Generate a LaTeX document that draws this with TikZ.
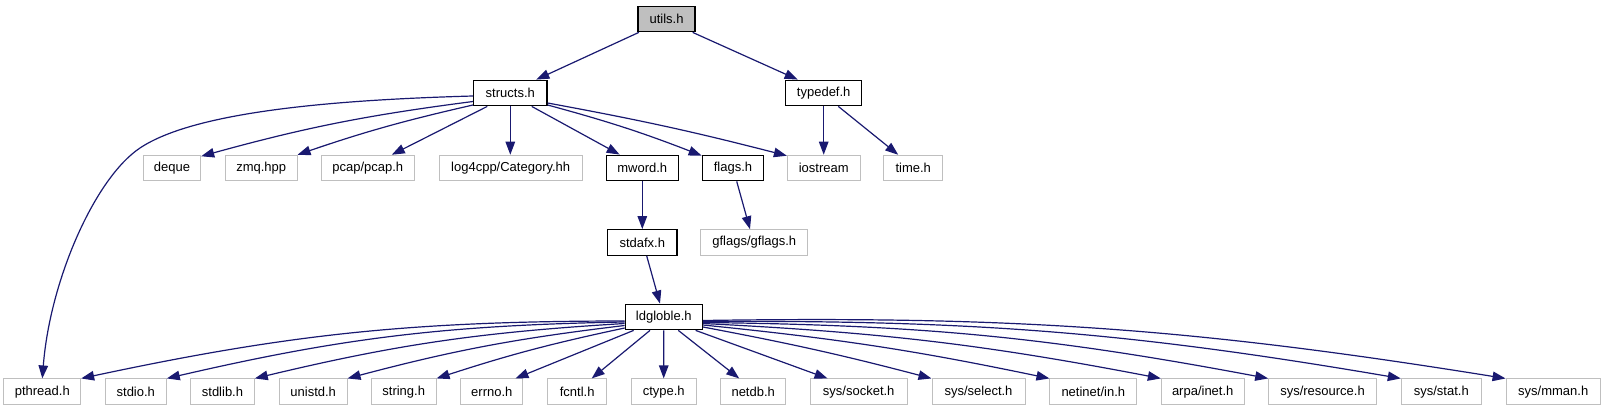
\documentclass[tikz,border=0pt]{standalone}
\usepackage{fontspec}
\setmainfont{Liberation Sans}
\usetikzlibrary{arrows.meta,calc}
\definecolor{edgec}{HTML}{191970}
\definecolor{lgray}{HTML}{BFBFBF}
\begin{document}
\begin{tikzpicture}[x=1pt,y=-1pt,
  box/.style={rectangle,draw=lgray,line width=1pt,minimum height=25.5pt,inner sep=0pt,font=\fontsize{13}{15}\selectfont},
  doc/.style={box,draw=black,line width=1.3pt},
  edge/.style={draw=edgec,line width=1.2pt,-{Triangle[length=13pt,width=9.5pt]}},
]
\path[use as bounding box] (0,0) rectangle (1605,411);
% top
\node[doc,fill=lgray,minimum width=57pt] (utils) at (666.5,19) {utils.h};
\node[doc,minimum width=73.3pt] (structs) at (510.3,93) {structs.h};
\node[doc,minimum width=76pt] (typedef) at (823.7,93) {typedef.h};
% middle row
\node[box,minimum width=57.4pt] (deque) at (172,168) {deque};
\node[box,minimum width=71.7pt] (zmq) at (261.2,168) {zmq.hpp};
\node[box,minimum width=93pt] (pcap) at (367.8,168) {pcap/pcap.h};
\node[box,minimum width=142.7pt] (log) at (510.7,168) {log4cpp/Category.hh};
\node[doc,minimum width=72pt] (mword) at (642.3,168) {mword.h};
\node[doc,minimum width=61.4pt] (flags) at (733,168) {flags.h};
\node[box,minimum width=72.7pt] (iostream) at (823.7,168) {iostream};
\node[box,minimum width=59pt] (time) at (913.2,168) {time.h};
\node[doc,minimum width=69.3pt] (stdafx) at (642.3,242.5) {stdafx.h};
\node[box,minimum width=106.7pt] (gflags) at (754.3,242.5) {gflags/gflags.h};
\node[doc,minimum width=77pt] (ld) at (663.8,317) {ldgloble.h};
% bottom row
\node[box,minimum width=76.7pt] (pthread) at (42.3,391.7) {pthread.h};
\node[box,minimum width=61pt] (stdio) at (135.8,391.7) {stdio.h};
\node[box,minimum width=63.6pt] (stdlib) at (222.5,391.7) {stdlib.h};
\node[box,minimum width=67.7pt] (unistd) at (313.2,391.7) {unistd.h};
\node[box,minimum width=64.7pt] (string) at (403.7,391.7) {string.h};
\node[box,minimum width=62.3pt] (errno) at (491.8,391.7) {errno.h};
\node[box,minimum width=59pt] (fcntl) at (577.2,391.7) {fcntl.h};
\node[box,minimum width=64.7pt] (ctype) at (663.7,391.7) {ctype.h};
\node[box,minimum width=65pt] (netdb) at (753.2,391.7) {netdb.h};
\node[box,minimum width=97.3pt] (socket) at (858.7,391.7) {sys/socket.h};
\node[box,minimum width=93pt] (select) at (978.5,391.7) {sys/select.h};
\node[box,minimum width=86.7pt] (netinet) at (1093.3,391.7) {netinet/in.h};
\node[box,minimum width=82.7pt] (arpa) at (1202.7,391.7) {arpa/inet.h};
\node[box,minimum width=107.6pt] (resource) at (1322.5,391.7) {sys/resource.h};
\node[box,minimum width=80pt] (stat) at (1441.3,391.7) {sys/stat.h};
\node[box,minimum width=94.3pt] (mman) at (1553.2,391.7) {sys/mman.h};

% edges from utils
\draw[edge] ($(utils.south west)+(1.5,0)$) -- ($(structs.north)+(26,0)$);
\draw[edge] ($(utils.south east)+(-3,0)$) -- ($(typedef.north west)+(12.6,0)$);
% edges from structs
\draw[edge] ($(structs.west)+(0,3)$) .. controls (330,100) and (194,112) .. (140,148)
   .. controls (95,178) and (50,280) .. (pthread.north);
\draw[edge] ($(structs.west)+(0,8.5)$) to[bend right=4] ($(deque.north east)+(0,1.5)$);
\draw[edge] ($(structs.west)+(0,12)$) to[bend right=3] (zmq.north east);
\draw[edge] ($(structs.south)+(-23,0)$) -- ($(pcap.north)+(24,0)$);
\draw[edge] (structs.south) -- (structs.south |- log.north);
\draw[edge] ($(structs.south)+(21.4,0)$) -- ($(mword.north west)+(14,0)$);
\draw[edge] ($(structs.east)+(0,12)$) to[bend left=3] ($(flags.north west)+(0,1)$);
\draw[edge] ($(structs.east)+(0,10)$) to[bend left=2] ($(iostream.north west)+(0,1)$);
% typedef
\draw[edge] (typedef.south) -- (iostream.north);
\draw[edge] ($(typedef.south)+(14.6,0)$) -- ($(time.north)+(-15,0)$);
% mword, flags, stdafx
\draw[edge] (mword.south) -- (stdafx.north);
\draw[edge] ($(flags.south)+(3.7,0)$) -- ($(gflags.north)+(-4.3,0)$);
\draw[edge] ($(stdafx.south)+(4.4,0)$) -- ($(ld.north)+(-3.8,0)$);
% ldgloble left side
\draw[edge] ($(ld.west)+(0,4)$) to[bend right=6] (pthread.north east);
\draw[edge] ($(ld.west)+(0,5)$) to[bend right=6] (stdio.north east);
\draw[edge] ($(ld.west)+(0,6.5)$) to[bend right=5] (stdlib.north east);
\draw[edge] ($(ld.west)+(0,8.5)$) to[bend right=4] (unistd.north east);
\draw[edge] ($(ld.west)+(0,11)$) to[bend right=3] (string.north east);
\draw[edge] ($(ld.south west)+(9,0)$) -- ($(errno.north east)+(-8,0)$);
\draw[edge] ($(ld.south)+(-13.8,0)$) -- ($(fcntl.north)+(14.5,0)$);
\draw[edge] (ld.south) -- (ctype.north);
% ldgloble right side
\draw[edge] ($(ld.south)+(14.5,0)$) -- ($(netdb.north)+(-14,0)$);
\draw[edge] ($(ld.south east)+(-7.3,0)$) -- ($(socket.north west)+(18,0)$);
\draw[edge] ($(ld.east)+(0,10)$) to[bend left=2] (select.north west);
\draw[edge] ($(ld.east)+(0,8)$) to[bend left=3] (netinet.north west);
\draw[edge] ($(ld.east)+(0,6.5)$) to[bend left=4] (arpa.north west);
\draw[edge] ($(ld.east)+(0,5.5)$) to[bend left=5] (resource.north west);
\draw[edge] ($(ld.east)+(0,4.5)$) to[bend left=5] (stat.north west);
\draw[edge] ($(ld.east)+(0,3.5)$) to[bend left=5] (mman.north west);
\end{tikzpicture}
\end{document}
